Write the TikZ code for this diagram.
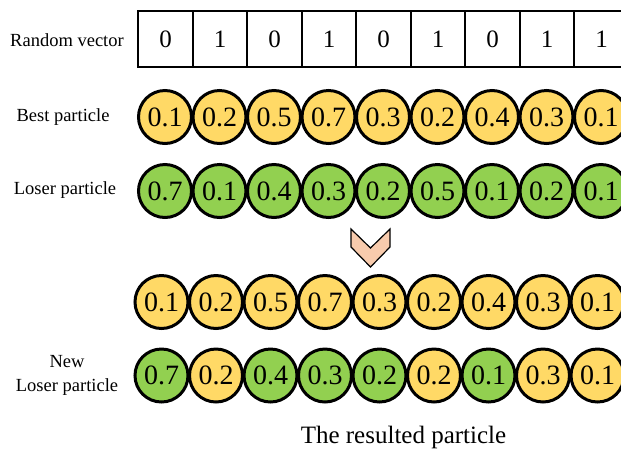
\documentclass[tikz,border=0pt]{standalone}
\usepackage{fontspec}
\setmainfont{Liberation Serif}
\usetikzlibrary{positioning}

\definecolor{bestyellow}{HTML}{FFD966}
\definecolor{losergreen}{HTML}{92D050}
\definecolor{chevpeach}{HTML}{F8CBAD}

\begin{document}
\begin{tikzpicture}[
    x=1pt, y=-1pt,
 bitbox/.style = {
        draw, rectangle, line width=1.6pt,
        minimum width=54.5pt, minimum height=55.5pt,
        inner sep=0pt, outer sep=0pt,
        font=\fontsize{25}{25}\selectfont},
   gene/.style = {
        draw, circle, line width=3pt,
        minimum size=53pt, inner sep=0pt, outer sep=0pt,
        font=\fontsize{28}{28}\selectfont},
   best/.style = {gene, fill=bestyellow},
  loser/.style = {gene, fill=losergreen},
rowlabel/.style = {
        align=center, inner sep=0pt,
        font=\fontsize{18.5}{24}\selectfont}
                    ]
\useasboundingbox (0,0) rectangle (621,451);
% the random vector
\foreach \v [count=\i] in {0,1,0,1,0,1,0,1,1}
    \node (r\i) [bitbox] at ({165.5+54.5*(\i-1)},39) {\v};
% best and loser particles
\foreach \v [count=\i] in {0.1,0.2,0.5,0.7,0.3,0.2,0.4,0.3,0.1}
    \node (b\i) [best] at ({165+54.5*(\i-1)},117) {\v};
\foreach \v [count=\i] in {0.7,0.1,0.4,0.3,0.2,0.5,0.1,0.2,0.1}
    \node (l\i) [loser] at ({165+54.5*(\i-1)},191) {\v};
% the resulted particle
\foreach \v [count=\i] in {0.1,0.2,0.5,0.7,0.3,0.2,0.4,0.3,0.1}
    \node (c\i) [best] at ({161.5+54.5*(\i-1)},302) {\v};
\foreach \v/\s [count=\i] in {0.7/loser,0.2/best,0.4/loser,0.3/loser,0.2/loser,
                              0.2/best,0.1/loser,0.3/best,0.1/best}
    \node (n\i) [\s] at ({161.5+54.5*(\i-1)},375.5) {\v};
% labels on the left
\node (lr) [rowlabel] at (67,40)    {Random vector};
\node (lb) [rowlabel] at (63,117)   {Best particle};
\node (ll) [rowlabel] at (65,190)   {Loser particle};
\node (ln) [rowlabel] at (67,375)   {New\\Loser particle};
\node (cap) [rowlabel, font=\fontsize{25}{25}\selectfont] at (403.5,437)
                                    {The resulted particle};
% the chevron
\draw[fill=chevpeach, line width=1.2pt, line join=miter]
    (351,229) -- (351,247) -- (370.5,267) -- (390,247)
    -- (390,229) -- (370.5,248) -- cycle;
\end{tikzpicture}
\end{document}
